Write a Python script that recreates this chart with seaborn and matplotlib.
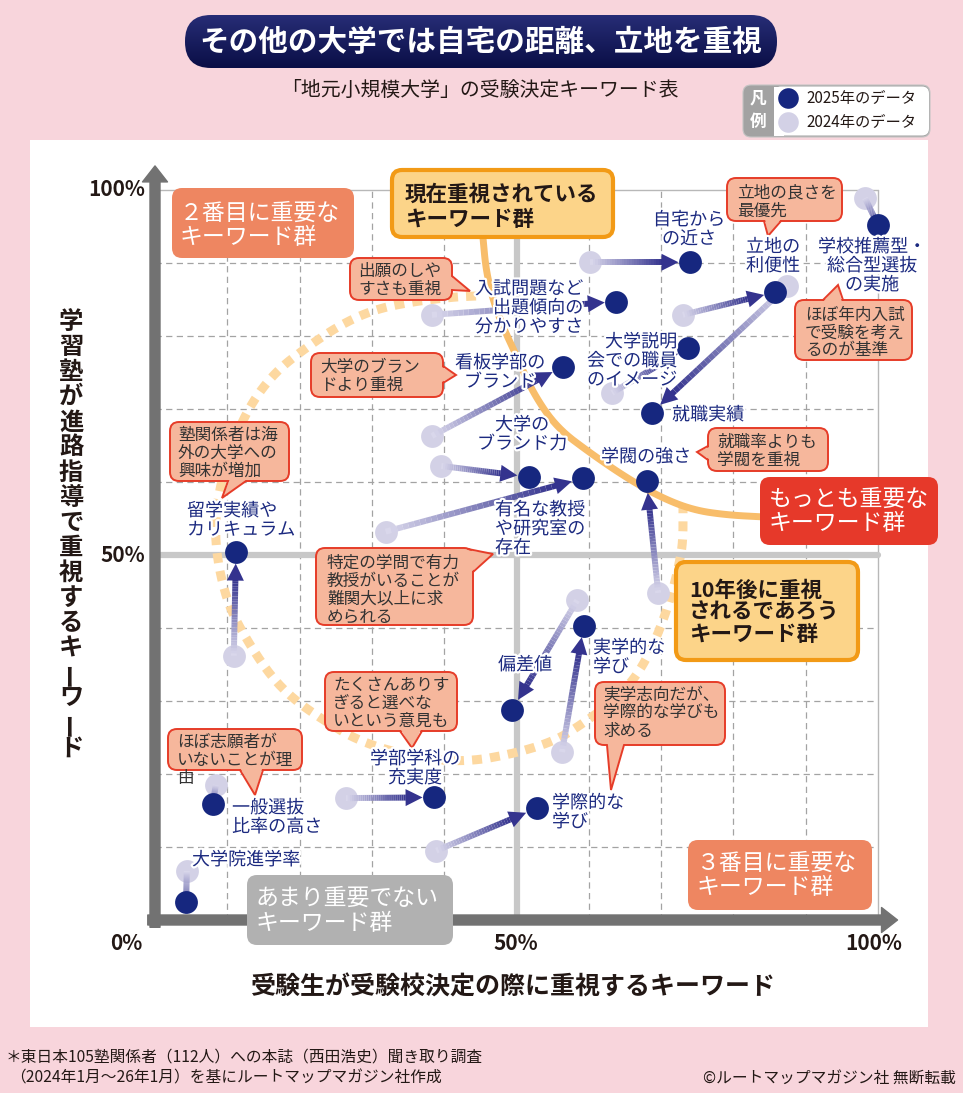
import numpy as np
import pandas as pd
import matplotlib
matplotlib.use('Agg')
import matplotlib.pyplot as plt
import seaborn as sns
import matplotlib.patheffects as pe
from matplotlib.patches import FancyBboxPatch, Polygon, Rectangle
from matplotlib.collections import LineCollection
from matplotlib.colors import to_rgb, LinearSegmentedColormap

# --- data: (x = 受験生が重視, y = 学習塾が重視), in % ---
keywords = ['自宅からの近さ', '入試問題など出題傾向の分かりやすさ', '立地の利便性', '就職実績',
            '学校推薦型・総合型選抜の実施', '大学説明会での職員のイメージ', '看板学部のブランド',
            '大学のブランド力', '有名な教授や研究室の存在', '学閥の強さ', '留学実績やカリキュラム',
            '偏差値', '実学的な学び', '学際的な学び', '学部学科の充実度', '一般選抜比率の高さ',
            '大学院進学率']
x_2024 = [60.2, 38.3, 73.0, 87.4, 98.2, 63.2, 38.3, 39.6, 31.9, 69.6, 10.9, 58.4, 56.3, 38.9, 26.4, 8.4, 4.4]
y_2024 = [90.1, 82.9, 82.9, 86.8, 98.9, 72.2, 66.3, 62.2, 53.2, 44.8, 36.2, 43.8, 23.0, 9.5, 16.7, 18.5, 6.7]
x_2025 = [74.0, 63.8, 85.8, 68.7, 100.0, 73.7, 56.4, 51.7, 59.2, 68.0, 11.2, 49.4, 59.3, 52.8, 38.6, 8.0, 4.3]
y_2025 = [90.1, 84.7, 86.0, 69.5, 95.2, 78.4, 75.8, 60.7, 60.5, 60.1, 50.4, 28.8, 40.3, 15.3, 16.8, 15.9, 2.5]

df = pd.DataFrame({'keyword': keywords * 2,
                   'x': x_2024 + x_2025,
                   'y': y_2024 + y_2025,
                   'year': ['2024'] * len(keywords) + ['2025'] * len(keywords)})

PINK = '#f8d5dc'
NAVY = '#16277f'
LIGHT = '#d3d1e6'
ARROW = '#34338e'
LABEL = '#1c2a80'
CALL_FC = '#f6b79c'
CALL_EC = '#e63c28'
CORAL = '#ee8661'
YEL = '#fcd489'
YEL_EC = '#f29a16'
TXT = '#231815'

sns.set_style('white')
plt.rcParams['font.family'] = ['Noto Sans CJK JP', 'DejaVu Sans']

W, H = 963, 1093
fig = plt.figure(figsize=(W / 100, H / 100), dpi=100)
fig.patch.set_facecolor(PINK)

# background panel (pixel coords)
bg = fig.add_axes([0, 0, 1, 1], zorder=0)
bg.set_xlim(0, W); bg.set_ylim(H, 0); bg.set_axis_off()
bg.add_patch(Rectangle((30, 140), 898, 887, fc='white', ec='none'))

# foreground overlay (pixel coords)
fg = fig.add_axes([0, 0, 1, 1], zorder=2)
fg.set_axis_off()

# data axes
ax = fig.add_axes([155 / W, (H - 920) / H, (878 - 155) / W, (920 - 190) / H], zorder=1)

# grid
for v in range(10, 100, 10):
    if v == 50:
        continue
    ax.plot([v, v], [0, 100], color='#a3a3a3', lw=0.9, ls=(0, (5, 3.5)), zorder=1)
    ax.plot([0, 100], [v, v], color='#a3a3a3', lw=0.9, ls=(0, (5, 3.5)), zorder=1)
ax.plot([50, 50], [0, 100], color='#c8c8c8', lw=4.5, zorder=1.2)
ax.plot([0, 100], [50, 50], color='#c8c8c8', lw=4.5, zorder=1.2)
ax.plot([100, 100], [0, 100], color='#b8b8b8', lw=1.0, zorder=1.1)
ax.plot([0, 100], [100, 100], color='#b8b8b8', lw=1.0, zorder=1.1)

# decorative curves (pixel layout, drawn in data axes layer)
def chaikin(pts, n=3):
    pts = np.asarray(pts, float)
    for _ in range(n):
        q = 0.75 * pts[:-1] + 0.25 * pts[1:]
        r = 0.25 * pts[:-1] + 0.75 * pts[1:]
        new = np.empty((len(q) * 2, 2))
        new[0::2] = q
        new[1::2] = r
        pts = np.vstack([pts[0], new, pts[-1]])
    return pts

ring = [(476, 296), (453, 297), (410, 302), (373, 310), (340, 325), (307, 347), (275, 372),
        (250, 405), (232, 445), (219, 490), (215, 525), (217, 557), (224, 590), (233, 615),
        (250, 645), (270, 675), (292, 698), (320, 718), (360, 742), (417, 758), (467, 762),
        (517, 753), (557, 740), (585, 722), (615, 700), (640, 672), (660, 630), (673, 590),
        (680, 560), (683, 540), (683, 506)]
rp = chaikin(ring)
ax.plot(rp[:, 0], rp[:, 1], transform=fg.transData, color='#fdd8a0', lw=6.5,
        ls=(0, (1.1, 0.9)), solid_capstyle='butt', dash_capstyle='butt', zorder=1.5)

arc = [(483, 238), (486, 270), (493, 300), (503, 327), (517, 357), (533, 393), (557, 428),
       (593, 455), (627, 478), (660, 497), (693, 510), (727, 515), (765, 517)]
ap = chaikin(arc)
ax.plot(ap[:, 0], ap[:, 1], transform=fg.transData, color='#f8bd6a', lw=5, zorder=1.6,
        solid_capstyle='butt')

# axis arrows
arrow_style = 'simple,head_length=0.8,head_width=1.25,tail_width=0.5'
ax.annotate('', xy=(0, 103.3), xytext=(0, -1.0),
            arrowprops=dict(arrowstyle=arrow_style, mutation_scale=14.4, color='#727272',
                            shrinkA=0, shrinkB=0), annotation_clip=False, zorder=2)
ax.annotate('', xy=(102.7, 0), xytext=(-1.0, 0),
            arrowprops=dict(arrowstyle=arrow_style, mutation_scale=14.4, color='#727272',
                            shrinkA=0, shrinkB=0), annotation_clip=False, zorder=2)

# points
d24 = df[df['year'] == '2024']
d25 = df[df['year'] == '2025']
sns.scatterplot(data=d24, x='x', y='y', color=LIGHT, s=270, linewidth=0, ax=ax, zorder=3, legend=False)
sns.scatterplot(data=d25, x='x', y='y', color=NAVY, s=270, linewidth=0, ax=ax, zorder=5, legend=False)
ax.set_xlim(0, 100)
ax.set_ylim(0, 100)
ax.set_axis_off()

# gradient arrows 2024 -> 2025
tr = ax.transData
inv = tr.inverted()
c0, c1 = np.array(to_rgb('#d9d7eb')), np.array(to_rgb(ARROW))
r_dot, hl, hw = 11.5, 17, 17
for xa, ya, xb, yb in zip(x_2024, y_2024, x_2025, y_2025):
    p0 = tr.transform((xa, ya))
    p1 = tr.transform((xb, yb))
    d = p1 - p0
    L = np.hypot(*d)
    u = d / L
    n = np.array([-u[1], u[0]])
    if L > 45:
        tip = p1 - u * r_dot
        base = tip - u * hl
        end = base + u * 2
        tri = np.array([tip, base + n * hw / 2, base - n * hw / 2])
        ax.add_patch(Polygon(inv.transform(tri), closed=True, fc=ARROW, ec='none', zorder=4.1))
    else:
        end = p1
    t = np.linspace(0, 1, 31)
    pts = p0 + np.outer(t, end - p0)
    segs = np.stack([pts[:-1], pts[1:]], axis=1).reshape(-1, 2)
    segs = inv.transform(segs).reshape(-1, 2, 2)
    tc = np.linspace(0, 1, 30)
    cols = [tuple(c0 + (c1 - c0) * k) for k in tc]
    ax.add_collection(LineCollection(segs, colors=cols, linewidths=4.3, capstyle='butt', zorder=4))

for a in ax.get_children():
    try:
        a.set_clip_on(False)
    except Exception:
        pass

# ---------------- overlay (pixel coordinates) ----------------
halo = [pe.withStroke(linewidth=3.2, foreground='white')]

def lines_text(x, y, lines, step, **kw):
    for i, s in enumerate(lines):
        fg.text(x, y + i * step, s, va='center', **kw)

# title pill
pill = FancyBboxPatch((185, 15), 592, 53, boxstyle='round,pad=0,rounding_size=26',
                      fc='none', ec='none', zorder=3)
fg.add_patch(pill)
grad = np.linspace(0, 1, 100).reshape(-1, 1)
cmap = LinearSegmentedColormap.from_list('pill', ['#272d76', '#0a0e46'])
im = fg.imshow(grad, extent=(185, 777, 68, 15), cmap=cmap, aspect='auto', zorder=3)
im.set_clip_path(pill)
fg.text(481, 42, 'その他の大学では自宅の距離、立地を重視', ha='center', va='center',
        color='white', fontsize=21.3, fontweight='bold', zorder=4)
fg.text(480, 90, '「地元小規模大学」の受験決定キーワード表', ha='center', va='center',
        color=TXT, fontsize=14.3, zorder=4)

# legend
fg.add_patch(FancyBboxPatch((743, 85), 187, 52, boxstyle='round,pad=0,rounding_size=8',
                            fc='#a2a2a2', ec='#c4c4c4', lw=0.8, zorder=3))
fg.add_patch(FancyBboxPatch((774, 86.5), 155, 49, boxstyle='round,pad=0,rounding_size=7',
                            fc='white', ec='none', zorder=3.1))
fg.add_patch(Rectangle((774, 86.5), 10, 49, fc='white', ec='none', zorder=3.1))
fg.text(758, 98, '凡', ha='center', va='center', color='white', fontsize=12, fontweight='bold', zorder=4)
fg.text(758, 122, '例', ha='center', va='center', color='white', fontsize=12, fontweight='bold', zorder=4)
fg.scatter([788], [98], s=220, color=NAVY, linewidth=0, zorder=4)
fg.scatter([788], [122], s=220, color=LIGHT, linewidth=0, zorder=4)
fg.text(806, 98, '2025年のデータ', va='center', color=TXT, fontsize=11, zorder=4)
fg.text(806, 122, '2024年のデータ', va='center', color=TXT, fontsize=11, zorder=4)

# axis tick labels and titles
tick_kw = dict(color=TXT, fontsize=15, fontweight='bold', va='center', zorder=4)
fg.text(145, 190, '100%', ha='right', **tick_kw)
fg.text(145, 556, '50%', ha='right', **tick_kw)
fg.text(142, 944, '0%', ha='right', **tick_kw)
fg.text(516, 944, '50%', ha='center', **tick_kw)
fg.text(874, 944, '100%', ha='center', **tick_kw)
fg.text(513, 988, '受験生が受験校決定の際に重視するキーワード', ha='center', va='center',
        color=TXT, fontsize=18, fontweight='bold', zorder=4)
ylab = '学習塾が進路指導で重視するキーワード'
for i, ch in enumerate(ylab):
    is_bar = ch == 'ー'
    fg.text(71 + (-1 if is_bar else 0), 322 + i * 25.1, ch, ha='center', va='center', color=TXT,
            fontsize=17.5, fontweight='bold', rotation=90 if is_bar else 0, zorder=4)

# category boxes
def catbox(x0, y0, x1, y1, fc, ec, lw, lines, tx, ty, step, color, weight, size):
    fg.add_patch(FancyBboxPatch((x0, y0), x1 - x0, y1 - y0, boxstyle='round,pad=0,rounding_size=10',
                                fc=fc, ec=ec, lw=lw, zorder=3))
    lines_text(tx, ty, lines, step, ha='left', color=color, fontweight=weight, fontsize=size, zorder=4)

catbox(172, 188, 354, 258, CORAL, 'none', 0, ['２番目に重要な', 'キーワード群'], 180, 213, 25, 'white', 'normal', 16.5)
catbox(392, 170, 613, 237, YEL, YEL_EC, 3, ['現在重視されている', 'キーワード群'], 405, 194, 25, TXT, 'bold', 15.5)
catbox(760, 477, 938, 545, '#e6392a', 'none', 0, ['もっとも重要な', 'キーワード群'], 769, 499, 24, 'white', 'normal', 16.5)
catbox(676, 562, 858, 660, YEL, YEL_EC, 3, ['10年後に重視', 'されるであろう', 'キーワード群'], 689, 590, 22, TXT, 'bold', 15.5)
catbox(688, 840, 872, 910, CORAL, 'none', 0, ['３番目に重要な', 'キーワード群'], 697, 863, 25, 'white', 'normal', 16.5)
catbox(247, 875, 453, 945, '#b1b1b1', 'none', 0, ['あまり重要でない', 'キーワード群'], 256, 898, 25, 'white', 'normal', 16.5)

# speech-bubble callouts
def callout(box, base, tip, lines, tx, ty):
    x0, y0, x1, y1 = box
    fg.add_patch(FancyBboxPatch((x0, y0), x1 - x0, y1 - y0, boxstyle='round,pad=0,rounding_size=9',
                                fc=CALL_FC, ec=CALL_EC, lw=1.4, zorder=3))
    b0, b1, tp = np.array(base[0], float), np.array(base[1], float), np.array(tip, float)
    mid = (b0 + b1) / 2
    dv = (mid - tp) / np.hypot(*(mid - tp))
    fg.add_patch(Polygon([b0 + dv * 3, tp, b1 + dv * 3], closed=True, fc=CALL_FC, ec='none', zorder=3.1))
    fg.plot([b0[0], tp[0], b1[0]], [b0[1], tp[1], b1[1]], color=CALL_EC, lw=1.4, zorder=3.2,
            solid_joinstyle='miter')
    lines_text(tx, ty, lines, 18, ha='left', color='#333333', fontsize=12, zorder=4)

callout((350, 258, 452, 300), ((452, 276), (452, 290)), (470, 291), ['出願のしや', 'すさも重視'], 358, 271)
callout((311, 353, 443, 397), ((443, 366), (443, 383)), (456, 375), ['大学のブラン', 'ドより重視'], 320, 367)
callout((170, 422, 289, 481), ((228, 481), (246, 481)), (222, 498), ['塾関係者は海', '外の大学への', '興味が増加'], 178, 435)
callout((316, 548, 473, 625), ((468, 549), (473, 572)), (493, 554), ['特定の学問で有力', '教授がいることが', '難関大以上に求', 'められる'], 327, 563)
callout((325, 672, 457, 731), ((400, 731), (422, 731)), (412, 748), ['たくさんありす', 'ぎると選べな', 'いという意見も'], 333, 685)
callout((168, 729, 302, 770), ((240, 770), (263, 770)), (255, 795), ['ほぼ志願者が', 'いないことが理', '由'], 177, 742)
callout((595, 682, 725, 745), ((607, 745), (624, 745)), (611, 790), ['実学志向だが、', '学際的な学びも', '求める'], 603, 695)
callout((708, 428, 828, 471), ((708, 446), (708, 460)), (697, 452), ['就職率よりも', '学閥を重視'], 717, 442)
callout((727, 178, 842, 221), ((764, 221), (781, 221)), (768, 236), ['立地の良さを', '最優先'], 737, 193)
callout((795, 300, 912, 360), ((823, 300), (843, 300)), (838, 285), ['ほぼ年内入試', 'で受験を考え', 'るのが基準'], 805, 315)

# keyword labels (layout in pixels)
label_layout = [
    (['自宅から', 'の近さ'], 689, 220, 'center'),
    (['入試問題など', '出題傾向の', '分かりやすさ'], 583, 289, 'right'),
    (['立地の', '利便性'], 773, 247, 'center'),
    (['就職実績'], 672, 415, 'left'),
    (['学校推薦型・', '総合型選抜', 'の実施'], 872, 247, 'center'),
    (['大学説明', '会での職員', 'のイメージ'], 677, 342, 'right'),
    (['看板学部の', 'ブランド'], 500, 363, 'center'),
    (['大学の', 'ブランド力'], 522, 425, 'center'),
    (['有名な教授', 'や研究室の', '存在'], 495, 510, 'left'),
    (['学閥の強さ'], 646, 457, 'center'),
    (['留学実績や', 'カリキュラム'], 187, 511, 'left'),
    (['偏差値'], 525, 665, 'center'),
    (['実学的な', '学び'], 593, 648, 'left'),
    (['学際的な', '学び'], 552, 803, 'left'),
    (['学部学科の', '充実度'], 415, 759, 'center'),
    (['一般選抜', '比率の高さ'], 232, 808, 'left'),
    (['大学院進学率'], 192, 860, 'left'),
]
for lines, lx, ly, ha in label_layout:
    for i, s in enumerate(lines):
        t = fg.text(lx, ly + i * 19, s, ha=ha, va='center', color=LABEL, fontsize=13, zorder=3.5)
        t.set_path_effects(halo)

# footer
fg.text(6, 1057, '＊東日本105塾関係者（112人）への本誌（西田浩史）聞き取り調査', va='center',
        color=TXT, fontsize=11.3, zorder=4)
fg.text(10, 1078, '（2024年1月〜26年1月）を基にルートマップマガジン社作成', va='center',
        color=TXT, fontsize=11.3, zorder=4)
fg.text(956, 1078, '©ルートマップマガジン社 無断転載', ha='right', va='center',
        color=TXT, fontsize=11.3, zorder=4)

fg.set_xlim(0, W)
fg.set_ylim(H, 0)

fig.savefig('out.png', dpi=100, facecolor=PINK)
